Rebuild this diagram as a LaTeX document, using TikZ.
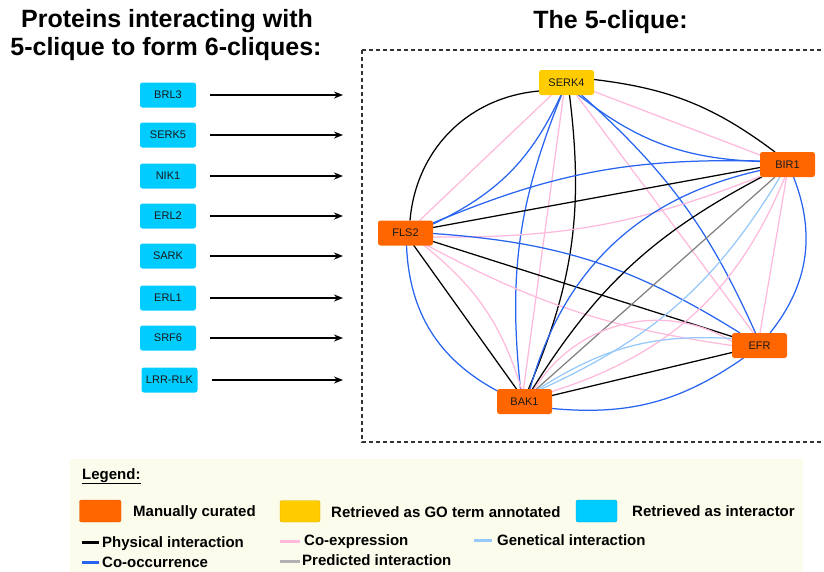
\documentclass[tikz,border=0pt]{standalone}
\usepackage{fontspec}
\setmainfont{Liberation Sans}
\usetikzlibrary{arrows.meta,backgrounds}
\definecolor{orng}{HTML}{FF6600}
\definecolor{yel}{HTML}{FFCC00}
\definecolor{cyn}{HTML}{00CCFF}
\definecolor{blu}{RGB}{40,100,240}
\definecolor{pnk}{RGB}{255,185,220}
\definecolor{lblu}{RGB}{150,200,250}
\definecolor{gry}{RGB}{128,128,128}
\definecolor{lgbg}{RGB}{252,252,236}
\begin{document}
\begin{tikzpicture}[x=1pt,y=-1pt,
  gene/.style={rectangle, rounded corners=2.5pt, minimum width=55pt, minimum height=25pt, inner sep=0pt, font=\fontsize{11}{13}\selectfont, text=black!90},
  cur/.style={gene, fill=orng},
  goa/.style={gene, fill=yel},
  itr/.style={gene, fill=cyn, minimum width=56pt},
  phys/.style={draw=black, line width=1.25pt},
  cooc/.style={draw=blu, line width=1.25pt},
  coex/.style={draw=pnk, line width=1.25pt},
  pred/.style={draw=gry, line width=1.25pt},
  genet/.style={draw=lblu, line width=1.25pt},
  ttl/.style={font=\bfseries\fontsize{25}{30}\selectfont, anchor=base, inner sep=0pt},
  lgt/.style={font=\bfseries\fontsize{15}{18}\selectfont, anchor=base west, inner sep=0pt},
  lgline/.style={line width=3pt},
  arr/.style={line width=1.9pt, -{Stealth[length=9pt,width=7pt]}}
]
\useasboundingbox (0,0) rectangle (824,571);

% titles
\node[ttl] (tA) at (167,27.3) {Proteins interacting with};
\node[ttl] (tB) at (166,55) {5-clique to form 6-cliques:};
\node[ttl] (tC) at (610.5,28.3) {The 5-clique:};

% dashed frame
\draw[dashed, dash pattern=on 4pt off 3pt, line width=1.1pt, black!80] (362,50) rectangle (840,442);

% clique nodes
\node[goa] (SERK4) at (566.5,82.5) {SERK4};
\node[cur] (BIR1) at (787.5,164.5) {BIR1};
\node[cur] (FLS2) at (405.5,233) {FLS2};
\node[cur] (EFR) at (759.5,345.5) {EFR};
\node[cur] (BAK1) at (524.5,401.5) {BAK1};

% interactor nodes and arrows
\foreach \nm/\lab/\yy/\xx in {n1/BRL3/95/168, n2/SERK5/135/168, n3/NIK1/176/168, n4/ERL2/216/168, n5/SARK/256/168, n6/ERL1/298/168, n7/SRF6/338/168, n8/LRR-RLK/380/169.5}{
  \node[itr] (\nm) at (\xx,\yy) {\lab};
  \coordinate (\nm t) at (343,\yy);
  \draw[arr] ([xshift=14pt]\nm.east) -- (\nm t);
}

\begin{scope}[on background layer]
% legend background
\fill[lgbg] (70,459) rectangle (803,575);

% SERK4 - FLS2
\draw[phys] ([shift={(-27.5,8.5)}]SERK4.center) to[bend right=40] ([shift={(4.5,-12.5)}]FLS2.center);
\draw[coex] ([shift={(-15,12.5)}]SERK4.center) -- ([shift={(14,-12.5)}]FLS2.center);
\draw[cooc] ([shift={(-5.5,12.5)}]SERK4.center) to[bend left=20] ([shift={(27.5,-9)}]FLS2.center);
% SERK4 - BIR1
\draw[phys] ([shift={(27.5,-3)}]SERK4.center) to[bend left=15] ([shift={(-12.5,-12.5)}]BIR1.center);
\draw[coex] ([shift={(27.5,9)}]SERK4.center) -- ([shift={(-27.5,-9.5)}]BIR1.center);
\draw[cooc] ([shift={(12,12.5)}]SERK4.center) to[bend right=18] ([shift={(-27.5,-3)}]BIR1.center);
% SERK4 - BAK1
\draw[phys] ([shift={(3,12.5)}]SERK4.center) to[bend left=15] ([shift={(4,-12.5)}]BAK1.center);
\draw[coex] ([shift={(-3,12.5)}]SERK4.center) -- ([shift={(-1,-12.5)}]BAK1.center);
\draw[cooc] ([shift={(-5,12.5)}]SERK4.center) to[bend right=14] ([shift={(-4,-12.5)}]BAK1.center);
% SERK4 - EFR
\draw[cooc] ([shift={(15,12.5)}]SERK4.center) to[bend left=12] ([shift={(-4,-12.5)}]EFR.center);
\draw[coex] ([shift={(10,12.5)}]SERK4.center) -- ([shift={(-6,-12.5)}]EFR.center);
% FLS2 - BIR1
\draw[cooc] ([shift={(27.5,-10)}]FLS2.center) to[bend left=12] ([shift={(-27.5,-3.5)}]BIR1.center);
\draw[phys] ([shift={(27.5,-5.5)}]FLS2.center) -- ([shift={(-27.5,3)}]BIR1.center);
\draw[coex] ([shift={(27.5,4)}]FLS2.center) to[bend right=11] ([shift={(-27.5,12)}]BIR1.center);
% FLS2 - EFR
\draw[cooc] ([shift={(27.5,0.5)}]FLS2.center) to[bend left=14] ([shift={(-19.5,-12.5)}]EFR.center);
\draw[phys] ([shift={(27.5,8.5)}]FLS2.center) -- ([shift={(-27.5,-9)}]EFR.center);
\draw[coex] ([shift={(21,12)}]FLS2.center) to[bend right=10] ([shift={(-27.5,0)}]EFR.center);
% FLS2 - BAK1
\draw[cooc] ([shift={(1,12)}]FLS2.center) to[bend right=30] ([shift={(-26,-10)}]BAK1.center);
\draw[phys] ([shift={(8,12)}]FLS2.center) -- ([shift={(-8,-12.5)}]BAK1.center);
\draw[coex] ([shift={(18,12)}]FLS2.center) to[bend left=17] ([shift={(-3,-12.5)}]BAK1.center);
% BIR1 - BAK1
\draw[cooc] ([shift={(-27.5,6)}]BIR1.center) to[bend right=31] ([shift={(5.5,-12.5)}]BAK1.center);
\draw[phys] ([shift={(-25.8,12.5)}]BIR1.center) to[bend right=15] ([shift={(8,-12.5)}]BAK1.center);
\draw[pred] ([shift={(-12.5,12.5)}]BIR1.center) -- ([shift={(12,-12.5)}]BAK1.center);
\draw[genet] ([shift={(-7.5,12.5)}]BIR1.center) to[bend left=17] ([shift={(17,-12.5)}]BAK1.center);
\draw[coex] ([shift={(-2.5,12.5)}]BIR1.center) to[bend left=25] ([shift={(27.5,-10)}]BAK1.center);
% BIR1 - EFR
\draw[cooc] ([shift={(6,12.5)}]BIR1.center) to[bend left=30] ([shift={(10.5,-12.5)}]EFR.center);
\draw[coex] ([shift={(-1,12.5)}]BIR1.center) -- ([shift={(0.5,-12.5)}]EFR.center);
% BAK1 - EFR
\draw[phys] ([shift={(27.5,-6)}]BAK1.center) -- ([shift={(-27.5,7)}]EFR.center);
\draw[cooc] ([shift={(27.5,7)}]BAK1.center) to[bend right=20] ([shift={(-16,12.5)}]EFR.center);
\draw[coex] ([shift={(10,-12.5)}]BAK1.center) to[bend left=45] ([shift={(-27.5,-4)}]EFR.center);
\draw[genet] ([shift={(14,-12.5)}]BAK1.center) to[bend left=18] ([shift={(-27.5,-7)}]EFR.center);
\end{scope}

% legend
\node[lgt] (lgH) at (82,479) {\underline{Legend:}};
\node[rectangle, rounded corners=2pt, fill=orng, draw=orng!85!black, line width=0.4pt, minimum width=41.5pt, minimum height=22pt, inner sep=0pt] (swO) at (100.25,511) {};
\node[rectangle, rounded corners=2pt, fill=yel, draw=yel!85!black, line width=0.4pt, minimum width=40pt, minimum height=21.5pt, inner sep=0pt] (swY) at (300,511.25) {};
\node[rectangle, rounded corners=2pt, fill=cyn, draw=cyn!85!black, line width=0.4pt, minimum width=41pt, minimum height=22pt, inner sep=0pt] (swC) at (596.5,511) {};
\node[lgt] (lgO) at (133,516) {Manually curated};
\node[lgt] (lgY) at (331,517.5) {Retrieved as GO term annotated};
\node[lgt] (lgC) at (632,516) {Retrieved as interactor};

\draw[lgline, black] (82,542.7) -- (99,542.7);
\draw[lgline, blu] (82,562.3) -- (99,562.3);
\draw[lgline, pnk] (280,541) -- (300,541);
\draw[lgline, black!30] (280,561) -- (300,561);
\draw[lgline, lblu] (474,540) -- (492,540);
\node[lgt] (lP) at (102,547.7) {Physical interaction};
\node[lgt] (lCo) at (102,567) {Co-occurrence};
\node[lgt] (lCe) at (304,545) {Co-expression};
\node[lgt] (lPr) at (302,565) {Predicted interaction};
\node[lgt] (lG) at (497,545) {Genetical interaction};
\end{tikzpicture}
\end{document}
